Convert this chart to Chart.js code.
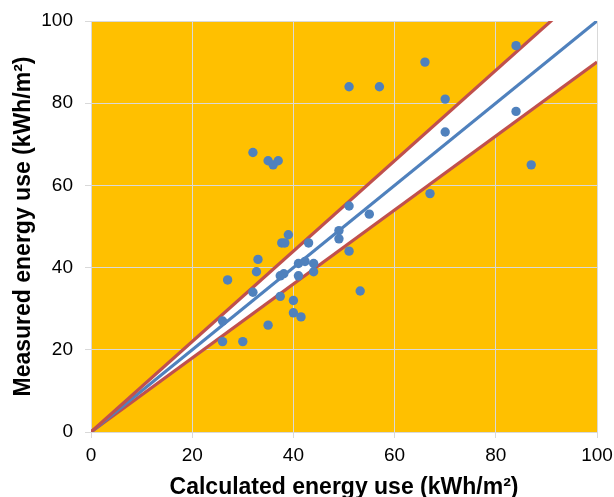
<!DOCTYPE html>
<html>
<head>
<meta charset="utf-8">
<script src="https://cdn.jsdelivr.net/npm/chart.js@4"></script>
<style>
  body { margin: 0; background: #fff; }
  #wrap { width: 614px; height: 497px; }
</style>
</head>
<body>
<div id="wrap"><canvas id="chart" width="614" height="497"></canvas></div>
<script>
// calculated vs measured energy use
const calcX = [84, 66, 51, 57, 70, 84, 70, 87, 32, 35, 36, 37, 67, 51, 55, 39, 37.7, 38.3, 43, 49, 49, 51,
  33, 32.7, 27, 41, 42.3, 44, 44, 37.4, 38.1, 41, 32, 53.2, 37.4, 40, 40, 41.5, 35, 26, 26, 30];
const measY = [94, 90, 84, 84, 81, 78, 73, 65, 68, 66, 65, 66, 58, 55, 53, 48, 46, 46, 46, 49, 47, 44,
  42, 39, 37, 41, 41.5, 41, 39, 38, 38.5, 38, 34, 34.3, 33, 32, 29, 28, 26, 27, 22, 22];

// reference lines: y = x and +/-10 %
const lineX = [0, 100];
const upperY = [0, 110];
const equalY = [0, 100];
const lowerY = [0, 90];

const tickVals = [0, 20, 40, 60, 80, 100];

const pts = (xs, ys) => xs.map((x, i) => ({ x: x, y: ys[i] }));

const plotBg = {
  id: 'plotBg',
  beforeDraw(chart) {
    const { ctx, chartArea: a } = chart;
    ctx.save();
    ctx.fillStyle = '#FFC000';
    ctx.fillRect(a.left, a.top, a.right - a.left, a.bottom - a.top);
    ctx.restore();
  }
};

const gridColor = '#D9D9D9';
const tickFont = { family: 'Liberation Sans, Arial, sans-serif', size: 19 };
const titleFont = { family: 'Liberation Sans, Arial, sans-serif', size: 23, weight: 'bold', lineHeight: 1 };

// datasets are drawn last-to-first, so the band fill sits on the lower line (drawn first)
new Chart(document.getElementById('chart'), {
  type: 'scatter',
  data: {
    datasets: [
      {
        data: pts(calcX, measY),
        backgroundColor: '#4F81BD',
        borderWidth: 0,
        pointRadius: 4.7,
        pointHoverRadius: 4.7
      },
      {
        type: 'line',
        data: pts(lineX, upperY),
        borderColor: '#C0504D',
        borderWidth: 3.2,
        pointRadius: 0,
        fill: false
      },
      {
        type: 'line',
        data: pts(lineX, equalY),
        borderColor: '#4F81BD',
        borderWidth: 3.2,
        pointRadius: 0,
        fill: false
      },
      {
        type: 'line',
        data: pts(lineX, lowerY),
        borderColor: '#C0504D',
        borderWidth: 3.2,
        pointRadius: 0,
        fill: 1,
        backgroundColor: '#FFFFFF'
      }
    ]
  },
  options: {
    responsive: false,
    animation: false,
    layout: { padding: { top: 21, right: 17, left: 0, bottom: 0 } },
    plugins: { legend: { display: false }, tooltip: { enabled: false } },
    scales: {
      x: {
        type: 'linear',
        min: 0,
        max: 100,
        afterBuildTicks: (s) => { s.ticks = tickVals.map(v => ({ value: v })); },
        afterFit: (s) => { s.height = 65; s.paddingLeft = 0; s.paddingRight = 0; },
        grid: { color: gridColor, tickLength: 6, tickColor: gridColor },
        border: { color: gridColor },
        ticks: { color: '#000', font: tickFont, padding: 6, maxRotation: 0 },
        title: {
          display: true,
          text: 'Calculated energy use (kWh/m²)',
          color: '#000',
          font: titleFont,
          padding: { top: 0, bottom: -2 }
        }
      },
      y: {
        type: 'linear',
        min: 0,
        max: 100,
        afterBuildTicks: (s) => { s.ticks = tickVals.map(v => ({ value: v })); },
        afterFit: (s) => { s.width = 91; s.paddingTop = 0; s.paddingBottom = 0; },
        grid: { color: gridColor, tickLength: 6, tickColor: gridColor },
        border: { color: gridColor },
        ticks: { color: '#000', font: tickFont, padding: 12 },
        title: {
          display: true,
          text: 'Measured energy use (kWh/m²)',
          color: '#000',
          font: titleFont,
          padding: { top: 12, bottom: 0 }
        }
      }
    }
  },
  plugins: [plotBg]
});
</script>
</body>
</html>
